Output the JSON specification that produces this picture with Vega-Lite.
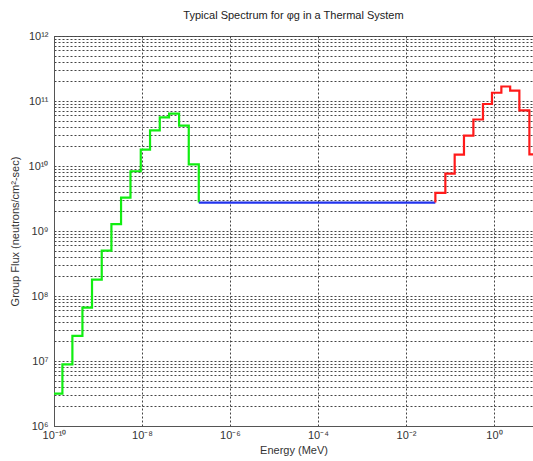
{
  "$schema": "https://vega.github.io/schema/vega-lite/v6.json",
  "autosize": {"type": "none"},
  "width": 479,
  "height": 390,
  "padding": {"left": 54, "top": 36, "right": 0, "bottom": 35},
  "background": "white",
  "config": {
    "view": {"stroke": "#555", "strokeWidth": 1},
    "font": "Liberation Sans"
  },
  "title": {
    "text": "Typical Spectrum for φg in a Thermal System",
    "fontSize": 11,
    "fontWeight": "normal",
    "color": "#222",
    "offset": 9,
    "anchor": "middle"
  },
  "data": {
    "values": [
      {"series": "green", "ord": 0, "energy": 1e-10, "flux": 3.15e6},
      {"series": "green", "ord": 1, "energy": 1.552e-10, "flux": 8.9e6},
      {"series": "green", "ord": 2, "energy": 2.618e-10, "flux": 2.43e7},
      {"series": "green", "ord": 3, "energy": 4.426e-10, "flux": 6.63e7},
      {"series": "green", "ord": 4, "energy": 7.31e-10, "flux": 1.79e8},
      {"series": "green", "ord": 5, "energy": 1.216e-9, "flux": 4.99e8},
      {"series": "green", "ord": 6, "energy": 2.018e-9, "flux": 1.28e9},
      {"series": "green", "ord": 7, "energy": 3.342e-9, "flux": 3.27e9},
      {"series": "green", "ord": 8, "energy": 5.47e-9, "flux": 8.3e9},
      {"series": "green", "ord": 9, "energy": 9.376e-9, "flux": 1.79e10},
      {"series": "green", "ord": 10, "energy": 1.524e-8, "flux": 3.54e10},
      {"series": "green", "ord": 11, "energy": 2.535e-8, "flux": 5.61e10},
      {"series": "green", "ord": 12, "energy": 4.121e-8, "flux": 6.4e10},
      {"series": "green", "ord": 13, "energy": 6.966e-8, "flux": 4.19e10},
      {"series": "green", "ord": 14, "energy": 1.156e-7, "flux": 1.06e10},
      {"series": "green", "ord": 15, "energy": 1.954e-7, "flux": 2.74e9},
      {"series": "blue", "ord": 0, "energy": 1.954e-7, "flux": 2.74e9},
      {"series": "blue", "ord": 1, "energy": 0.04656, "flux": 2.74e9},
      {"series": "red", "ord": 0, "energy": 0.04656, "flux": 2.74e9},
      {"series": "red", "ord": 1, "energy": 0.04656, "flux": 3.85e9},
      {"series": "red", "ord": 2, "energy": 0.07852, "flux": 7.64e9},
      {"series": "red", "ord": 3, "energy": 0.1279, "flux": 1.5e10},
      {"series": "red", "ord": 4, "energy": 0.208, "flux": 2.94e10},
      {"series": "red", "ord": 5, "energy": 0.3404, "flux": 5.19e10},
      {"series": "red", "ord": 6, "energy": 0.5623, "flux": 8.99e10},
      {"series": "red", "ord": 7, "energy": 0.9016, "flux": 1.34e11},
      {"series": "red", "ord": 8, "energy": 1.472, "flux": 1.67e11},
      {"series": "red", "ord": 9, "energy": 2.333, "flux": 1.44e11},
      {"series": "red", "ord": 10, "energy": 3.776, "flux": 7.19e10},
      {"series": "red", "ord": 11, "energy": 6.383, "flux": 1.51e10},
      {"series": "red", "ord": 12, "energy": 10, "flux": 1.51e10}
    ]
  },
  "mark": {"type": "line", "interpolate": "step-after", "strokeWidth": 2.2, "clip": true},
  "encoding": {
    "x": {
      "field": "energy",
      "type": "quantitative",
      "scale": {"type": "log", "domain": [1e-10, 7.71], "nice": false},
      "axis": {
        "title": "Energy (MeV)",
        "titleFontSize": 11,
        "titleFontWeight": "normal",
        "titleColor": "#333",
        "titlePadding": 4,
        "values": [1e-10, 1e-8, 1e-6, 1e-4, 1e-2, 1],
        "labelExpr": "round(log(datum.value)/LN10) == -10 ? '10⁻¹⁰' : round(log(datum.value)/LN10) == -8 ? '10⁻⁸' : round(log(datum.value)/LN10) == -6 ? '10⁻⁶' : round(log(datum.value)/LN10) == -4 ? '10⁻⁴' : round(log(datum.value)/LN10) == -2 ? '10⁻²' : '10⁰'",
        "labelFontSize": 11,
        "labelColor": "#333",
        "labelPadding": 3,
        "labelOverlap": false,
        "labelFlush": false,
        "ticks": false,
        "domainColor": "#555",
        "grid": true,
        "gridDash": [2, 2],
        "gridColor": "#444",
        "gridWidth": 1
      }
    },
    "y": {
      "field": "flux",
      "type": "quantitative",
      "scale": {"type": "log", "domain": [1e6, 1e12], "nice": false},
      "axis": {
        "title": "Group Flux (neutrons/cm²-sec)",
        "titleFontSize": 11,
        "titleFontWeight": "normal",
        "titleColor": "#333",
        "titlePadding": 8,
        "values": [1e6, 2e6, 3e6, 4e6, 5e6, 6e6, 7e6, 8e6, 9e6, 1e7, 2e7, 3e7, 4e7, 5e7, 6e7, 7e7, 8e7, 9e7, 1e8, 2e8, 3e8, 4e8, 5e8, 6e8, 7e8, 8e8, 9e8, 1e9, 2e9, 3e9, 4e9, 5e9, 6e9, 7e9, 8e9, 9e9, 1e10, 2e10, 3e10, 4e10, 5e10, 6e10, 7e10, 8e10, 9e10, 1e11, 2e11, 3e11, 4e11, 5e11, 6e11, 7e11, 8e11, 9e11, 1e12],
        "labelExpr": "datum.value == 1e6 ? '10⁶' : datum.value == 1e7 ? '10⁷' : datum.value == 1e8 ? '10⁸' : datum.value == 1e9 ? '10⁹' : datum.value == 1e10 ? '10¹⁰' : datum.value == 1e11 ? '10¹¹' : datum.value == 1e12 ? '10¹²' : ''",
        "labelFontSize": 11,
        "labelColor": "#333",
        "labelPadding": 6,
        "labelOverlap": false,
        "labelFlush": false,
        "ticks": false,
        "domainColor": "#555",
        "grid": true,
        "gridDash": [2, 2],
        "gridColor": "#444",
        "gridWidth": 1
      }
    },
    "color": {
      "field": "series",
      "type": "nominal",
      "scale": {"domain": ["green", "blue", "red"], "range": ["#11ee11", "#2233ee", "#ff1a1a"]},
      "legend": null
    },
    "order": {"field": "ord", "type": "quantitative"}
  }
}
